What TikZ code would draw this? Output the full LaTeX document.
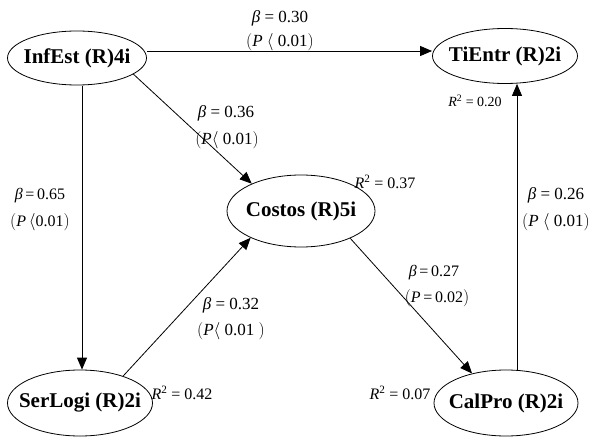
\documentclass[tikz,border=0pt]{standalone}
\usepackage{fontspec}
\setmainfont{Liberation Serif}
\usetikzlibrary{shapes.geometric,arrows.meta}
\newcommand{\bt}{\textit{β}}
\newcommand{\pp}{\textit{P}}
\newcommand{\rsq}{\textit{R}\textsuperscript{2}}
\newcommand{\zw}[1]{\makebox[0pt]{#1}}
\begin{document}
\begin{tikzpicture}[x=1pt,y=-1pt,
  lat/.style={draw,ellipse,inner sep=0pt,line width=0.8pt,font=\bfseries\fontsize{21}{24}\selectfont},
  conn/.style={line width=0.8pt,-{Triangle[length=12pt,width=10pt]}},
  lbl/.style={font=\fontsize{17}{20}\selectfont,inner sep=0pt},
  slbl/.style={font=\fontsize{16}{18}\selectfont,inner sep=0pt},
  rlbl/.style={font=\fontsize{16}{18}\selectfont,inner sep=0pt}]
\useasboundingbox (0,0) rectangle (596,438);
\node[lat,minimum width=139pt,minimum height=54pt] (inf) at (77,58) {\zw{InfEst (R)4i}};
\node[lat,minimum width=145pt,minimum height=55pt] (ti) at (505,56) {\zw{TiEntr (R)2i}};
\node[lat,minimum width=148pt,minimum height=72pt] (cos) at (301,211) {\zw{Costos (R)5i}};
\node[lat,minimum width=145pt,minimum height=66pt] (ser) at (80,403) {\zw{SerLogi (R)2i}};
\node[lat,minimum width=144pt,minimum height=66pt] (cal) at (506,403) {\zw{CalPro (R)2i}};

\coordinate (a1) at (147,51);
\coordinate (a2) at (82,86);
\coordinate (a3) at (517,370);
\draw[conn] (a1) -- (a1 -| ti.west);
\draw[conn] (a2) -- (a2 |- ser.north);
\draw[conn] (inf.-16) -- (cos.151);
\draw[conn] (ser.32) -- (cos.208);
\draw[conn] (cos.-29) -- (cal.139);
\draw[conn] (a3) -- (a3 |- ti.south);

\node[lbl] (l1) at (280,18) {\bt\ = 0.30};
\node[lbl] (l1b) at (280,42) {$\big($\pp\ $\langle$ 0.01$\big)$};
\node[lbl] (l2) at (226,113) {\bt\ = 0.36};
\node[lbl] (l2b) at (227,140) {$\big($\pp$\langle$ 0.01$\big)$};
\node[slbl] (l3) at (40,196) {\bt\,=\,0.65};
\node[slbl] (l3b) at (40,222) {$\big($\pp$\,\langle$0.01$\big)$};
\node[lbl] (l4) at (231,305) {\bt\ = 0.32};
\node[lbl] (l4b) at (231,331) {$\big($\pp$\langle$ 0.01 $\big)$};
\node[slbl] (l5) at (434,273) {\bt\,=\,0.27};
\node[slbl] (l5b) at (437,298) {$\big($\pp\,=\,0.02$\big)$};
\node[lbl] (l6) at (556,195) {\bt\ = 0.26};
\node[lbl] (l6b) at (556,222) {$\big($\pp\ $\langle$ 0.01$\big)$};
\node[rlbl] (r1) at (385,182) {\rsq\ = 0.37};
\node[rlbl,font=\fontsize{14}{16}\selectfont] (r2) at (475,101) {\rsq\ = 0.20};
\node[rlbl] (r3) at (182,393) {\rsq\ = 0.42};
\node[rlbl] (r4) at (400,393) {\rsq\ = 0.07};
\end{tikzpicture}
\end{document}
